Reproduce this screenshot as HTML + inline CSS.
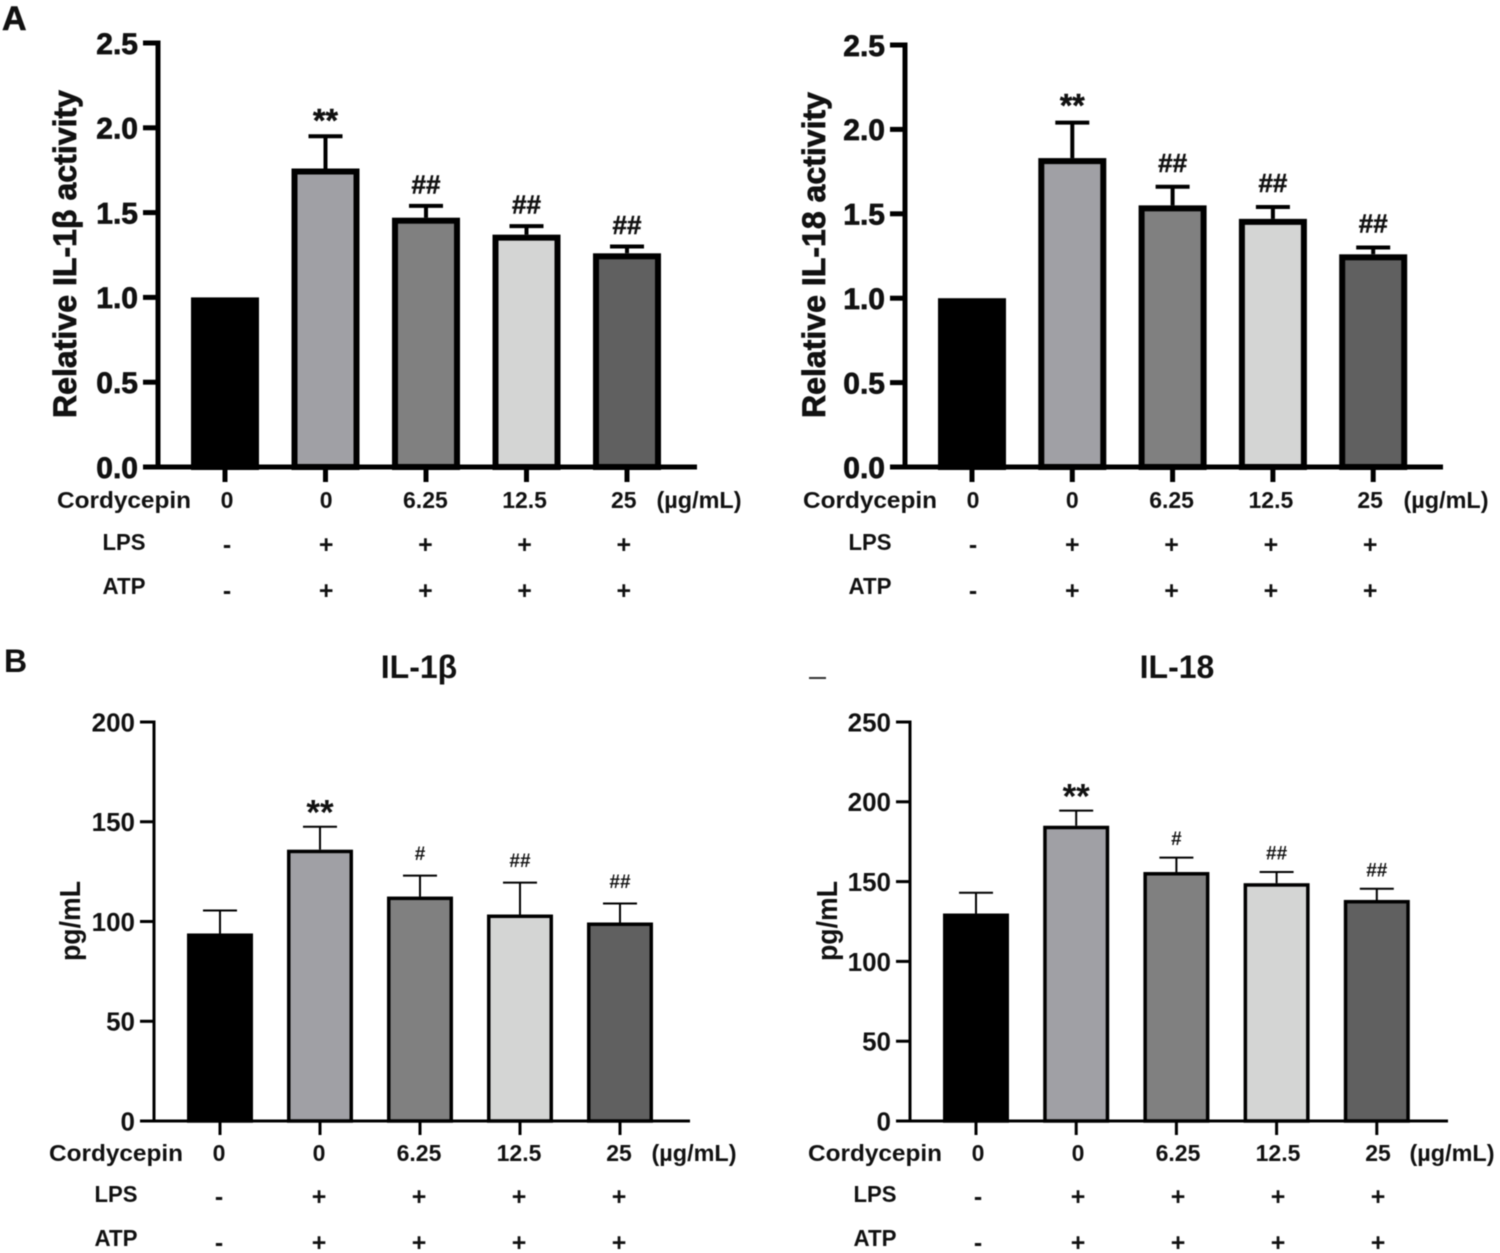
<!DOCTYPE html>
<html lang="en">
<head>
<meta charset="utf-8">
<title>Cordycepin IL-1β and IL-18 bar charts</title>
<style>
html,body{margin:0;padding:0;background:#fff;width:1500px;height:1253px;overflow:hidden}
svg{display:block;filter:blur(.45px)}
text{font-family:"Liberation Sans",sans-serif;font-weight:700;fill:#111}
</style>
</head>
<body>
<svg id="figure" xmlns="http://www.w3.org/2000/svg" width="1500" height="1253" viewBox="0 0 1500 1253">
  <text x="2" y="30" font-size="34" style="stroke:#111;stroke-width:.6">A</text>
  <text x="4" y="672" font-size="32">B</text>
  <text x="419" y="678" font-size="32" text-anchor="middle">IL-1β</text>
  <text x="1177" y="678" font-size="32" text-anchor="middle">IL-18</text>
  <rect x="809" y="677" width="17" height="2" fill="#333"></rect>
</svg>
<script>
const barColors = ['#000000', '#a0a0a5', '#808080', '#d4d5d4', '#606060'];
const doseLabels = ['0', '0', '6.25', '12.5', '25'];
const lpsLabels = ['-', '+', '+', '+', '+'];
const atpLabels = ['-', '+', '+', '+', '+'];

const relIl1bValues = [1.0, 1.76, 1.47, 1.37, 1.26];
const relIl1bErrors = [1.0, 1.95, 1.54, 1.42, 1.30];
const relIl1bMarks = ['', '**', '##', '##', '##'];
const relIl1bTicks = ['0.0', '0.5', '1.0', '1.5', '2.0', '2.5'];

const relIl18Values = [1.0, 1.83, 1.55, 1.47, 1.26];
const relIl18Errors = [1.0, 2.04, 1.66, 1.54, 1.30];
const relIl18Marks = ['', '**', '##', '##', '##'];
const relIl18Ticks = ['0.0', '0.5', '1.0', '1.5', '2.0', '2.5'];

const pgIl1bValues = [94, 136, 112.5, 103.5, 99.5];
const pgIl1bErrors = [105.5, 147.5, 123, 119.5, 109];
const pgIl1bMarks = ['', '**', '#', '##', '##'];
const pgIl1bTicks = ['0', '50', '100', '150', '200'];

const pgIl18Values = [130, 185, 156, 149, 138.5];
const pgIl18Errors = [143, 194.5, 165, 156, 145.5];
const pgIl18Marks = ['', '**', '#', '##', '##'];
const pgIl18Ticks = ['0', '50', '100', '150', '200', '250'];

const NS = 'http://www.w3.org/2000/svg';
const fig = document.getElementById('figure');

function make(parent, tag, attrs, txt) {
  const el = document.createElementNS(NS, tag);
  for (const k in attrs) el.setAttribute(k, attrs[k]);
  if (txt !== undefined) el.textContent = txt;
  parent.appendChild(el);
  return el;
}

function drawPanel(p) {
  const g = make(fig, 'g', {});
  
  

  const max = Number(p.ticks[p.ticks.length - 1]);
  const yScale = v => p.y0 - (v / max) * (p.y0 - p.yTop);
  const xScale = i => p.x0 + i * p.step;
  const half = p.barOuter / 2 - p.sw / 2;

  p.values.forEach((v, i) => {
    const cx = xScale(i);
    if (p.errors[i] > v) {
      const err = make(g, 'path', {
        d: 'M' + cx + ' ' + yScale(v) + 'V' + yScale(p.errors[i]) + 'M' + (cx - 17) + ' ' + yScale(p.errors[i]) + 'H' + (cx + 17),
        stroke: '#000', 'stroke-width': p.errW, fill: 'none'
      });
      
      
    }

    const barTop = yScale(v) + p.sw / 2;
    const bar = make(g, 'rect', {
      x: cx - half, y: barTop, width: half * 2, height: p.y0 - barTop,
      fill: barColors[i], stroke: '#000', 'stroke-width': p.sw
    });
    
    

    if (p.marks[i]) {
      const isStar = p.marks[i] === '**';
      const size = isStar ? p.starSize : p.hashSize;
      const mark = make(g, 'text', {
        x: cx,
        y: yScale(p.errors[i]) - (isStar ? p.starGap : p.hashGap),
        'font-size': size, 'text-anchor': 'middle',
        style: p.heavy ? 'stroke:#111;stroke-width:.5' : ''
      }, p.marks[i]);
      
      
    }

    const tick = make(g, 'line', {
      x1: cx, x2: cx, y1: p.y0, y2: p.y0 + p.xTick, stroke: '#000', 'stroke-width': p.axisW
    });
    
    
  });

  const axes = make(g, 'path', {
    d: 'M' + p.axisX + ' ' + p.y0 + 'V' + (p.yTop - p.axisW / 2) + 'M' + (p.axisX - p.yTick) + ' ' + p.y0 + 'H' + p.xEnd,
    stroke: '#000', 'stroke-width': p.axisW, fill: 'none'
  });
  
  

  p.ticks.forEach(t => {
    const y = yScale(Number(t));
    const tk = make(g, 'line', {
      x1: p.axisX - p.yTick, x2: p.axisX, y1: y, y2: y, stroke: '#000', 'stroke-width': p.axisW
    });
    
    
    const lab = make(g, 'text', {
      x: p.axisX - p.yTick - 5, y: y + p.tickFont * 0.36, 'font-size': p.tickFont, 'text-anchor': 'end',
      style: p.heavy ? 'stroke:#111;stroke-width:.7' : ''
    }, t);
    
    
  });

  const yt = make(g, 'text', {
    transform: 'translate(' + p.titleX + ' ' + p.titleY + ') rotate(-90)',
    'font-size': p.titleFont, 'text-anchor': 'middle',
    style: p.heavy ? 'stroke:#111;stroke-width:.7' : '',
    textLength: p.titleLen, lengthAdjust: 'spacingAndGlyphs'
  }, p.title);
  
  

  const rows = [
    { name: 'Cordycepin', vals: doseLabels, y: p.rows[0], size: 23 },
    { name: 'LPS', vals: lpsLabels, y: p.rows[1], size: 25 },
    { name: 'ATP', vals: atpLabels, y: p.rows[2], size: 25 }
  ];
  rows.forEach((r, ri) => {
    const head = make(g, 'text', {
      x: p.rowX, y: r.y + (ri === 0 ? 0 : -1 + (ri === 2 ? -2 : 0)), 'font-size': 23, 'text-anchor': 'middle',
      textLength: ri === 0 ? 134 : 43, lengthAdjust: 'spacingAndGlyphs'
    }, r.name);
    
    
    r.vals.forEach((val, i) => {
      const c = make(g, 'text', {
        x: p.labelX + i * p.labelStep, y: r.y + (ri === 0 ? 0 : 2), 'font-size': r.size, 'text-anchor': 'middle'
      }, val);
      
      
    });
  });
  const unit = make(g, 'text', {
    x: p.unitX, y: p.rows[0], 'font-size': 23, 'text-anchor': 'middle', textLength: 85, lengthAdjust: 'spacingAndGlyphs'
  }, '(µg/mL)');
  
  
}

drawPanel({
  name: 'relative-il-1b-chart', values: relIl1bValues, errors: relIl1bErrors, marks: relIl1bMarks, ticks: relIl1bTicks,
  title: 'Relative IL-1β activity', titleX: 76, titleY: 254, titleFont: 32, titleLen: 328, heavy: true,
  axisX: 158, axisW: 5, y0: 467, yTop: 43, xEnd: 697, x0: 225, step: 100.5, barOuter: 68, sw: 6, errW: 4,
  yTick: 15, xTick: 15, tickFont: 30, starSize: 32, starGap: 5, hashSize: 26, hashGap: 12.5,
  rows: [508, 551, 597], rowX: 124, labelX: 227, labelStep: 99.2, unitX: 699
});
drawPanel({
  name: 'relative-il-18-chart', values: relIl18Values, errors: relIl18Errors, marks: relIl18Marks, ticks: relIl18Ticks,
  title: 'Relative IL-18 activity', titleX: 825, titleY: 255, titleFont: 32, titleLen: 326, heavy: true,
  axisX: 905, axisW: 5, y0: 467, yTop: 45, xEnd: 1443, x0: 972, step: 100.3, barOuter: 68, sw: 6, errW: 4,
  yTick: 15, xTick: 15, tickFont: 30, starSize: 32, starGap: 6, hashSize: 26, hashGap: 15,
  rows: [508, 551, 597], rowX: 870, labelX: 973, labelStep: 99.3, unitX: 1446
});
drawPanel({
  name: 'il-1b-concentration-chart', values: pgIl1bValues, errors: pgIl1bErrors, marks: pgIl1bMarks, ticks: pgIl1bTicks,
  title: 'pg/mL', titleX: 80, titleY: 921, titleFont: 29, titleLen: 80, heavy: false,
  axisX: 154, axisW: 3, y0: 1121, yTop: 722, xEnd: 690, x0: 220, step: 100, barOuter: 66, sw: 3.5, errW: 2,
  yTick: 14, xTick: 14, tickFont: 26, starSize: 35, starGap: 2, hashSize: 19, hashGap: 15.5,
  rows: [1161, 1203, 1249], rowX: 116, labelX: 219, labelStep: 100, unitX: 694
});
drawPanel({
  name: 'il-18-concentration-chart', values: pgIl18Values, errors: pgIl18Errors, marks: pgIl18Marks, ticks: pgIl18Ticks,
  title: 'pg/mL', titleX: 837, titleY: 921, titleFont: 29, titleLen: 80, heavy: false,
  axisX: 910, axisW: 3, y0: 1121, yTop: 722, xEnd: 1448, x0: 976, step: 100.2, barOuter: 66, sw: 3.5, errW: 2,
  yTick: 14, xTick: 14, tickFont: 26, starSize: 35, starGap: 2, hashSize: 19, hashGap: 12.5,
  rows: [1161, 1203, 1249], rowX: 875, labelX: 978, labelStep: 100, unitX: 1452
});
</script>
</body>
</html>
